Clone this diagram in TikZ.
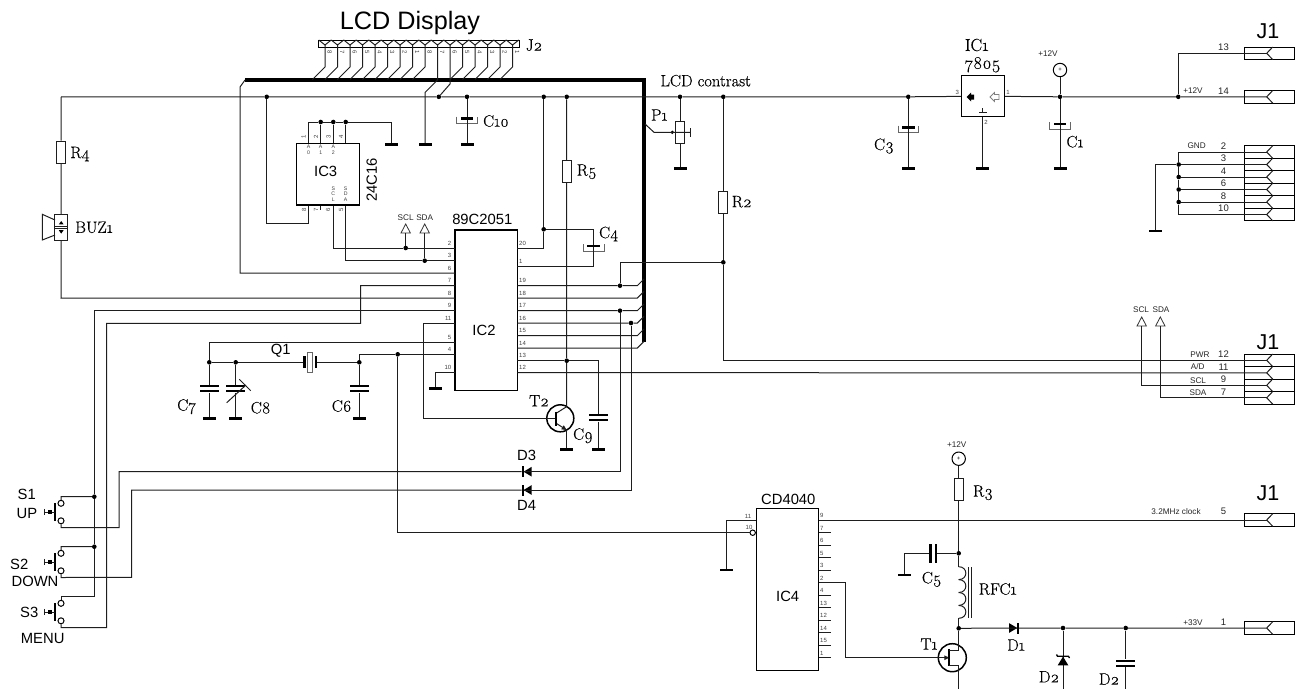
\documentclass[tikz,border=0pt]{standalone}
\usepackage{fontspec}
\setmainfont{Latin Modern Roman}[Numbers=OldStyle, FakeBold=0.35]
\setsansfont{Liberation Sans}
\usetikzlibrary{positioning, arrows.meta, calc}
\definecolor{wiregray}{RGB}{30,30,30}
\tikzset{wire/.style={line width=1pt, wiregray}}
\tikzset{bus/.style={line width=3.2pt, black}}
\tikzset{chip/.style={
    rectangle,
    draw=black,
    line width=1.4pt,
    inner sep=0pt
}}
\tikzset{resistor/.style={
    rectangle,
    draw=wiregray,
    line width=1pt,
    minimum width=9pt,
    minimum height=22pt,
    inner sep=0pt
}}
\tikzset{plate/.style={rectangle, fill=black, minimum width=19pt, minimum height=2.4pt, inner sep=0pt}}
\tikzset{polplate/.style={plate, minimum width=12.7pt}}
\tikzset{gndbar/.style={rectangle, fill=black, minimum width=13pt, minimum height=2.6pt, inner sep=0pt}}
\tikzset{junc/.style={circle, fill=black, minimum size=4.6pt, inner sep=0pt}}
\tikzset{jackbox/.style={rectangle, draw=black, line width=1pt, minimum width=50.4pt, minimum height=12.6pt, inner sep=0pt}}
\tikzset{contact/.style={circle, draw=black, fill=white, line width=1pt, minimum size=6pt, inner sep=0pt}}
\tikzset{supply/.style={circle, draw=black, line width=1pt, minimum size=13.4pt, inner sep=0pt, font=\sffamily\fontsize{6}{6}\selectfont}}
\tikzset{part/.style={inner sep=0pt, font=\fontsize{16.5}{16.5}\selectfont}}
\tikzset{cname/.style={inner sep=0pt, font=\sffamily\fontsize{14.8}{14.8}\selectfont}}
\tikzset{bigname/.style={inner sep=0pt, font=\sffamily\fontsize{21.5}{21.5}\selectfont}}
\tikzset{pinnum/.style={inner sep=0pt, text=black!75, font=\sffamily\fontsize{6}{6}\selectfont}}
\tikzset{sigtext/.style={inner sep=0pt, text=black!85, font=\sffamily\fontsize{8.2}{8.2}\selectfont}}
\tikzset{jacknum/.style={inner sep=0pt, text=black!85, font=\sffamily\fontsize{9.5}{9.5}\selectfont}}
\newcommand{\capnp}[3]{%
  \node (#1a) [plate] at (#2,#3) {};
  \node (#1b) [plate] at (#2,#3+5.2) {};
}
\newcommand{\cappol}[3]{%
  \draw [black!60, line width=0.8pt] (#2-10.3,#3-1.6) -- (#2-10.3,#3+5) -- (#2+10.3,#3+5) -- (#2+10.3,#3-1.6);
  \node (#1) [polplate] at (#2,#3) {};
}
\newcommand{\jackslot}[2]{%
  \node (#1) [jackbox] at (1269.5,#2) {};
  \coordinate (#1t) at (1266.7,#2);
  \draw [wire] (1272.7,#2-6.3) -- (#1t) -- (1272.7,#2+6.3);
}
\newcommand{\flagtri}[3]{%
  \coordinate (#1) at (#2,#3+9);
  \draw [black!80, line width=0.8pt] (#1) -- (#2-4.7,#3+9) -- (#2,#3) -- (#2+4.7,#3+9) -- cycle;
}
\newcommand{\pushsw}[2]{%
  \node (#1t) [contact] at (61,#2) {};
  \node (#1b) [contact] at (61,#2+17.5) {};
  \coordinate (#1u) at (61,#2-6.7);
  \coordinate (#1e) at (61,#2+24.2);
  \draw [black, line width=1.5pt] (55,#2) -- (55,#2+17.5);
  \draw [wire] (44,#2+8.75) -- (55,#2+8.75);
  \draw [wire] (44,#2+5.5) -- (44,#2+12);
  \fill [black] (47.5,#2+6.8) rectangle (51.5,#2+10.7);
}

\begin{document}
\begin{tikzpicture}[x=1pt, y=-1pt, >={Triangle[length=5pt, width=4.5pt]}]
    \useasboundingbox (0,0) rectangle (1308,689);
    % Chips and passive parts
    \node (J2) [rectangle, draw=black, line width=0.9pt, minimum width=201pt, minimum height=7pt, inner sep=0pt] at (418.5,43.5) {};
    \node (IC2) [chip, minimum width=62.3pt, minimum height=160.7pt] at (486.2,310.3) {};
    \node (IC3) [chip, minimum width=62.6pt, minimum height=61.7pt] at (328,174.2) {};
    \node (IC1) [chip, minimum width=42.6pt, minimum height=41pt] at (983,96.2) {};
    \node (IC4) [chip, minimum width=62.4pt, minimum height=162.4pt] at (787.5,589.5) {};
    \node (R4) [resistor] at (61,152) {};
    \node (R5) [resistor] at (566.7,171.7) {};
    \node (R2) [resistor] at (723.3,202.5) {};
    \node (R3) [resistor] at (958.7,489) {};
    \node (P1) [resistor] at (680,132.5) {};
    \node (BUZ) [rectangle, draw=wiregray, line width=1pt, minimum width=13pt, minimum height=26pt, inner sep=0pt] at (61.2,227.3) {};
    \node (T2) [circle, draw=black, line width=1.5pt, minimum size=27pt, inner sep=0pt] at (560.3,418.3) {};
    \node (T1) [circle, draw=black, line width=1.5pt, minimum size=28pt, inner sep=0pt] at (952.3,657.7) {};
    \node (V1) [supply] at (1060,70) {+};
    \node (V2) [supply] at (958.7,458.7) {+};
    \capnp{C7}{209.3}{386}
    \capnp{C8}{235.7}{386}
    \capnp{C6}{359.3}{386}
    \capnp{C9}{598.3}{415}
    \capnp{CD}{1125.7}{660.7}
    \cappol{C10}{467}{118.3}
    \cappol{C4}{593.7}{246}
    \cappol{C3}{908.3}{127.3}
    \cappol{C1}{1060}{124}
    \node (C5a) [plate, rotate=90] at (930.5,553.3) {};
    \node (C5b) [plate, rotate=90] at (935.8,553.3) {};
    \node (Q1box) [rectangle, draw=black!60, line width=0.8pt, minimum width=5pt, minimum height=20.4pt, inner sep=0pt] at (309.8,362.5) {};
    \node (Q1a) [plate, rotate=90, minimum width=12pt] at (304.3,362.3) {};
    \node (Q1b) [plate, rotate=90, minimum width=12pt] at (315.7,362.3) {};
    \pushsw{S1}{503.3}
    \pushsw{S2}{553.3}
    \pushsw{S3}{603.3}
    % Connector J1
    \jackslot{Jp13}{53.3}
    \jackslot{Jp14}{96.8}
    \jackslot{Jp2}{152}
    \jackslot{Jp3}{164.5}
    \jackslot{Jp4}{177}
    \jackslot{Jp6}{189.5}
    \jackslot{Jp8}{202}
    \jackslot{Jp10}{214.5}
    \jackslot{Jp12}{360.3}
    \jackslot{Jp11}{372.8}
    \jackslot{Jp9}{385.3}
    \jackslot{Jp7}{397.8}
    \jackslot{Jp5}{520}
    \jackslot{Jp1}{628}
    % Ground bars
    \node (gA) [gndbar] at (391.7,144.3) {};
    \node (gB) [gndbar] at (425,144.3) {};
    \node (gC10) [gndbar] at (467,144.3) {};
    \node (gP1) [gndbar] at (680,168.3) {};
    \node (gC3) [gndbar] at (908.3,168.3) {};
    \node (gIC1) [gndbar] at (982.7,168.3) {};
    \node (gC1) [gndbar] at (1060,168.3) {};
    \node (gJ1) [gndbar] at (1155,231) {};
    \node (gC7) [gndbar] at (209.3,418.3) {};
    \node (gC8) [gndbar] at (235.7,418.3) {};
    \node (gC6) [gndbar] at (359.3,418.3) {};
    \node (gPin10) [gndbar] at (435.7,388.3) {};
    \node (gT2) [gndbar] at (566.7,449.3) {};
    \node (gC9) [gndbar] at (598.3,449.3) {};
    \node (gIC4) [gndbar] at (726.3,570) {};
    \node (gC5) [gndbar] at (904,575) {};
    % Junctions
    \node (jRail1) [junc] at (266.7,96.8) {};
    \node (jRail2) [junc] at (438.8,96.8) {};
    \node (jRail3) [junc] at (467,96.8) {};
    \node (jRail4) [junc] at (543.7,96.8) {};
    \node (jRail5) [junc] at (566.7,96.8) {};
    \node (jRail6) [junc] at (680,96.8) {};
    \node (jRail7) [junc] at (723.3,96.8) {};
    \node (jRail8) [junc] at (908.3,96.8) {};
    \node (jRail9) [junc] at (1060,96.8) {};
    \node (jRail10) [junc] at (1178.3,96.8) {};
    \node (jA1) [junc] at (320.7,122) {};
    \node (jA2) [junc] at (333.3,122) {};
    \node (jA3) [junc] at (345.7,122) {};
    \node (jSCL) [junc] at (405.7,248) {};
    \node (jSDA) [junc] at (424.7,260.7) {};
    \node (jC4) [junc] at (543.7,229.3) {};
    \node (jP19) [junc] at (620,285.7) {};
    \node (jP17) [junc] at (620,310.7) {};
    \node (jP16) [junc] at (631,323) {};
    \node (jR2) [junc] at (723.3,262.3) {};
    \node (jP13) [junc] at (566.7,360.7) {};
    \node (jXtalL) [junc] at (209.3,362.3) {};
    \node (jXtalM) [junc] at (235.7,362.3) {};
    \node (jXtalR) [junc] at (359.3,362.3) {};
    \node (jP4) [junc] at (397.7,354.3) {};
    \node (jS1) [junc] at (94.3,496.7) {};
    \node (jS2) [junc] at (94.3,546.7) {};
    \node (jC5) [junc] at (958.7,553.3) {};
    \node (jT1) [junc] at (958.7,628.3) {};
    \node (jD2) [junc] at (1063,628) {};
    \node (jCD) [junc] at (1125.7,628) {};
    \node (jJ1a) [junc] at (1178.7,164.5) {};
    \node (jJ1b) [junc] at (1178.7,177) {};
    \node (jJ1c) [junc] at (1178.7,189.5) {};
    \node (jJ1d) [junc] at (1178.7,202) {};
    % IC2 pins
    \foreach \n/\y in {2/248,3/260.7,6/273,7/285.7,8/298,9/310.7,11/323,5/342,4/354.3,10/372.7} {
        \coordinate (IC2-\n) at (455,\y);
        \node (IC2n\n) [pinnum, anchor=east] at (451.5,\y-5) {\n};
    }
    \foreach \n/\y in {20/248,1/266.7,19/285.7,18/298,17/310.7,16/323,15/335.7,14/348,13/360.7,12/372.7} {
        \coordinate (IC2-\n) at (517.3,\y);
        \node (IC2n\n) [pinnum, anchor=west] at (519,\y-5) {\n};
    }
    % IC4 pins
    \foreach \n/\y in {9/520,7/532.7,6/545,5/557.7,3/570,2/582.7,4/595,13/607.7,12/620,14/632.7,15/645,1/657.7} {
        \coordinate (IC4-\n) at (818.7,\y);
        \draw [wire] (IC4-\n) -- ++(12,0);
        \node (IC4n\n) [pinnum, anchor=west] at (820,\y-4.5) {\n};
    }
    % Bus and display connector
    \coordinate (busL) at (245,80);
    \coordinate (busT) at (644,80);
    \coordinate (busB) at (644,342);
    \draw [bus] (busL) -- (busT) -- (busB);
    \foreach \x/\n [count=\i] in {325/8,337.5/7,350/6,362.5/5,375/4,387.5/3,400/2,412.5/1,425/8,437.5/7,450/6,462.5/5,475/4,487.5/3,500/2,512.5/1} {
        \coordinate (J2p\i) at (\x,45);
        \draw [wire] (\x-6.25,40) -- (J2p\i) -- (\x+6.25,40);
        \node (J2n\i) [pinnum, rotate=-90] at (\x+4.6,52.5) {\n};
    }
    \foreach \i in {1,2,3,4,5,6,7,8,9,12,13,14,15,16} {
        \draw [wire] (J2p\i) -- ++(0,22) -- ++(-12.5,12.5);
    }
    \coordinate (cJ2a) at (425,92.5);
    \coordinate (cJ2b) at (437.5,80);
    \coordinate (cJ2c) at (450,84);
    \draw [wire] (J2p10) -- (cJ2b) -- (cJ2a) -- (gB);
    \draw [wire] (J2p11) -- (cJ2c) -- (jRail2);
    % Supply rail
    \coordinate (cTL) at (61,96.8);
    \draw [wire] (cTL) -- (jRail1) -- (jRail2) -- (jRail3) -- (jRail4) -- (jRail5) -- (jRail6) -- (jRail7) -- (jRail8) -- (IC1);
    \draw [wire] (IC1) -- (jRail9) -- (jRail10) -- (Jp14t);
    \coordinate (cJ13) at (1178.3,53.3);
    \draw [wire] (jRail10) -- (cJ13) -- (Jp13t);
    \draw [wire] (V1) -- (jRail9) -- (C1) -- (gC1);
    \draw [wire] (jRail8) -- (C3) -- (gC3);
    \draw [wire] (IC1.south -| gIC1) -- (gIC1);
    \draw [wire] (jRail3) -- (C10) -- (gC10);
    % Buzzer branch
    \coordinate (cBuz) at (61,298);
    \draw [wire] (cTL) -- (R4) -- (BUZ) -- (cBuz) -- (IC2-8);
    \draw [wire] (55,220) -- (42.3,214.3) -- (42.3,240) -- (55,235);
    \draw [wire] (54.7,226) -- (67.7,226);
    \draw [wire] (54.7,228.6) -- (67.7,228.6);
    \fill [black] (61.2,221) -- (63.6,224.4) -- (58.8,224.4) -- cycle;
    \fill [black] (61.2,233.6) -- (63.6,230.2) -- (58.8,230.2) -- cycle;
    % Contrast pot and R2
    \draw [wire] (jRail6) -- (P1) -- (gP1);
    \coordinate (cP1a) at (645,124);
    \coordinate (cP1b) at (654,132.3);
    \coordinate (cP1c) at (690,132.3);
    \node (jP1) [junc, minimum size=3.6pt] at (672.3,132.3) {};
    \draw [wire] (cP1a) -- (cP1b) -- (cP1c);
    \draw [wire] (690,128) -- (690,136.6);
    \coordinate (cR2) at (723.3,360.3);
    \draw [wire] (jRail7) -- (R2) -- (jR2) -- (cR2) -- (Jp12t);
    \coordinate (cP19) at (620,262.3);
    \draw [wire] (jP19) -- (cP19) -- (jR2);
    % IC3
    \coordinate (cA0) at (308.7,122);
    \coordinate (cAg) at (391.7,122);
    \draw [wire] (IC3.north -| cA0) -- (cA0) -- (jA1) -- (jA2) -- (jA3) -- (cAg) -- (gA);
    \draw [wire] (jA1) -- (jA1 |- IC3.north);
    \draw [wire] (jA2) -- (jA2 |- IC3.north);
    \draw [wire] (jA3) -- (jA3 |- IC3.north);
    \coordinate (cWPa) at (308.7,223.3);
    \coordinate (cWPb) at (266.7,223.3);
    \draw [wire] (cA0 |- IC3.south) -- (cWPa) -- (cWPb) -- (jRail1);
    \draw [wire] (jA1 |- IC3.south) -- ++(0,4.5);
    \coordinate (cSCL) at (333.3,248);
    \coordinate (cSDA) at (345.7,260.7);
    \draw [wire] (jA2 |- IC3.south) -- (cSCL) -- (jSCL) -- (IC2-2);
    \draw [wire] (jA3 |- IC3.south) -- (cSDA) -- (jSDA) -- (IC2-3);
    \flagtri{fSCL}{405.7}{224}
    \flagtri{fSDA}{424.7}{224}
    \draw [wire] (fSCL) -- (jSCL);
    \draw [wire] (fSDA) -- (jSDA);
    % IC2 left side
    \coordinate (cBusL) at (240,87);
    \coordinate (cP6) at (240,273);
    \draw [wire] (busL) -- (cBusL) -- (cP6) -- (IC2-6);
    \coordinate (cP7a) at (360.7,285.7);
    \coordinate (cP7b) at (360.7,323.3);
    \coordinate (cP7c) at (106.7,323.3);
    \coordinate (cS3b) at (106.7,627.7);
    \draw [wire] (IC2-7) -- (cP7a) -- (cP7b) -- (cP7c) -- (cS3b) -- (S3e) -- (S3b);
    \coordinate (cP9) at (94.3,310.7);
    \coordinate (cS3t) at (94.3,596.6);
    \draw [wire] (IC2-9) -- (cP9) -- (jS1) -- (jS2) -- (cS3t) -- (S3u) -- (S3t);
    \draw [wire] (jS1) -- (S1u) -- (S1t);
    \draw [wire] (jS2) -- (S2u) -- (S2t);
    \coordinate (cP11) at (423.3,323);
    \coordinate (cBase) at (423.3,418.3);
    \coordinate (T2b) at (555.7,418.3);
    \draw [wire] (IC2-11) -- (cP11) -- (cBase) -- (T2b);
    \coordinate (cP5) at (209.3,342);
    \draw [wire] (IC2-5) -- (cP5) -- (jXtalL);
    \coordinate (cP4) at (359.3,354.3);
    \draw [wire] (IC2-4) -- (jP4) -- (cP4) -- (jXtalR);
    \coordinate (cP10) at (435.7,372.7);
    \draw [wire] (IC2-10) -- (cP10) -- (gPin10);
    % Crystal and its capacitors
    \draw [wire] (jXtalL) -- (jXtalM) -- (Q1a);
    \draw [wire] (Q1b) -- (jXtalR);
    \draw [wire] (jXtalL) -- (C7a);
    \draw [wire] (C7b) -- (gC7);
    \draw [wire] (jXtalM) -- (C8a);
    \draw [wire] (C8b) -- (gC8);
    \draw [wire] (jXtalR) -- (C6a);
    \draw [wire] (C6b) -- (gC6);
    \draw [wire] (226.7,402.7) -- (246,385);
    \draw [wire] (239.3,379.3) -- (250.7,390.7);
    % IC2 right side
    \coordinate (cP20) at (543.7,248);
    \draw [wire] (IC2-20) -- (cP20) -- (jC4) -- (jRail4);
    \coordinate (cC4a) at (593.7,229.3);
    \coordinate (cC4b) at (593.7,266.7);
    \draw [wire] (jC4) -- (cC4a) -- (C4) -- (cC4b) -- (IC2-1);
    \foreach \n/\y in {18/298,15/335.7,14/348} {
        \coordinate (tap\n) at (644,\y-6.7);
        \draw [wire] (IC2-\n) -- ($(tap\n)+(-6.7,6.7)$) -- (tap\n);
    }
    \coordinate (tap19) at (644,279);
    \coordinate (tap17) at (644,304);
    \coordinate (tap16) at (644,316.3);
    \draw [wire] (IC2-19) -- (jP19) -- ($(tap19)+(-6.7,6.7)$) -- (tap19);
    \draw [wire] (IC2-17) -- (jP17) -- ($(tap17)+(-6.7,6.7)$) -- (tap17);
    \draw [wire] (IC2-16) -- (jP16) -- ($(tap16)+(-6.7,6.7)$) -- (tap16);
    \draw [wire] (IC2-12) -- (Jp11t);
    \coordinate (cP13) at (598.3,360.7);
    \draw [wire] (IC2-13) -- (jP13) -- (cP13) -- (C9a);
    \draw [wire] (C9b) -- (gC9);
    % T2
    \coordinate (T2c) at (566.7,406.6);
    \coordinate (T2e) at (566.7,430);
    \draw [wire] (jRail5) -- (R5) -- (jP13) -- (T2c) -- (555.7,413.6);
    \draw [wire, ->] (555.7,423) -- (T2e);
    \draw [wire] (T2e) -- (gT2);
    \draw [black, line width=1.9pt] (555.7,411.6) -- (555.7,426);
    % D3 and D4 with the switches
    \coordinate (cD3) at (620,471.7);
    \coordinate (cD4) at (631,490);
    \coordinate (cS1a) at (119,527.7);
    \coordinate (cS1b) at (119,471.7);
    \coordinate (cS2a) at (131.7,577.3);
    \coordinate (cS2b) at (131.7,490);
    \node (D3bar) [plate, rotate=90, minimum width=11pt, minimum height=1.8pt] at (522.6,471.7) {};
    \node (D4bar) [plate, rotate=90, minimum width=11pt, minimum height=1.8pt] at (522.6,490) {};
    \fill [black] (523.6,471.7) -- (531.7,466.8) -- (531.7,476.6) -- cycle;
    \fill [black] (523.6,490) -- (531.7,485.1) -- (531.7,494.9) -- cycle;
    \draw [wire] (jP17) -- (cD3) -- (D3bar);
    \draw [wire] (jP16) -- (cD4) -- (D4bar);
    \draw [wire] (D3bar) -- (cS1b) -- (cS1a) -- (S1e) -- (S1b);
    \draw [wire] (D4bar) -- (cS2b) -- (cS2a) -- (S2e) -- (S2b);
    % Right hand connectors
    \coordinate (cGnd) at (1155,164.5);
    \draw [wire] (jJ1a) -- (cGnd) -- (gJ1);
    \coordinate (cGt) at (1178.7,152);
    \coordinate (cGb) at (1178.7,214.5);
    \draw [wire] (Jp2t) -- (cGt) -- (jJ1a) -- (jJ1b) -- (jJ1c) -- (jJ1d) -- (cGb) -- (Jp10t);
    \draw [wire] (jJ1a) -- (Jp3t);
    \draw [wire] (jJ1b) -- (Jp4t);
    \draw [wire] (jJ1c) -- (Jp6t);
    \draw [wire] (jJ1d) -- (Jp8t);
    \flagtri{fSCLb}{1141.7}{317}
    \flagtri{fSDAb}{1160.3}{317}
    \coordinate (cSCLb) at (1141.7,385.3);
    \coordinate (cSDAb) at (1160.3,397.8);
    \draw [wire] (fSCLb) -- (cSCLb) -- (Jp9t);
    \draw [wire] (fSDAb) -- (cSDAb) -- (Jp7t);
    % CD4040
    \coordinate (cInA) at (397.7,532.7);
    \node (inv) [contact, minimum size=5.4pt] at (752.7,532.7) {};
    \draw [wire] (jP4) -- (cInA) -- (inv);
    \coordinate (cP11b) at (726.3,520);
    \draw [wire] (IC4.west |- cP11b) -- (cP11b) -- (gIC4);
    \draw [wire] (IC4-9) -- (Jp5t);
    \coordinate (cGa) at (845.7,582.7);
    \coordinate (cGb2) at (845.7,657.7);
    \coordinate (T1g) at (949.3,657.7);
    \draw [wire] (IC4-2) -- (cGa) -- (cGb2);
    \draw [wire, ->] (cGb2) -- (T1g);
    \draw [black, line width=1.9pt] (949.3,649) -- (949.3,666);
    % T1, coil and output
    \coordinate (T1d) at (958.7,650);
    \coordinate (T1s) at (958.7,665);
    \coordinate (cOut) at (958.7,689);
    \coordinate (RFCt) at (958.7,566.7);
    \coordinate (RFCb) at (958.7,618.3);
    \draw [wire] (V2) -- (R3) -- (jC5) -- (RFCt);
    \foreach \y in {566.7,579.6,592.5,605.4} {
        \draw [wire] (958.7,\y) .. controls (968.2,\y) and (968.2,\y+12.9) .. (958.7,\y+12.9);
    }
    \draw [wire] (968.3,567) -- (968.3,618.3);
    \draw [wire] (971.7,567) -- (971.7,618.3);
    \draw [wire] (RFCb) -- (jT1) -- (T1d) -- (949.3,650);
    \draw [wire] (949.3,665) -- (T1s) -- (cOut);
    \draw [wire] (jC5) -- (C5b);
    \coordinate (cC5) at (904,553.3);
    \draw [wire] (C5a) -- (cC5) -- (gC5);
    \node (D1bar) [plate, rotate=90, minimum width=11pt, minimum height=1.8pt] at (1018,628) {};
    \fill [black] (1017.2,628) -- (1009,623.1) -- (1009,632.9) -- cycle;
    \draw [wire] (jT1) -- (D1bar) -- (jD2) -- (jCD) -- (Jp1t);
    \coordinate (D2top) at (1063,656.3);
    \coordinate (D2low) at (1063,689);
    \draw [wire] (jD2) -- (D2top) -- (D2low);
    \draw [black, line width=1.3pt] (1056.5,654.5) -- (1057.5,656.3) -- (1068.5,656.3) -- (1069.5,658);
    \fill [black] (1063,656.6) -- (1068.3,665.3) -- (1057.7,665.3) -- cycle;
    \draw [wire] (jCD) -- (CDa);
    \coordinate (CDlow) at (1125.7,689);
    \draw [wire] (CDb) -- (CDlow);
    % IC1 inner marks
    \fill [black] (966.7,97) -- (971,92.5) -- (971,94.5) -- (974,94.5) -- (974,99.5) -- (971,99.5) -- (971,101.5) -- cycle;
    \draw [black!50, line width=0.8pt] (990,97) -- (994.5,92.5) -- (994.5,94.5) -- (999,94.5) -- (999,99.5) -- (994.5,99.5) -- (994.5,101.5) -- cycle;
    \draw [wire] (982.7,108) -- (982.7,112.5);
    \draw [wire] (979,112.5) -- (986.7,112.5);
    % Chip and part names
    \node (lcdName) [inner sep=0pt, font=\sffamily\fontsize{25.2}{25.2}\selectfont] at (410,23) {LCD Display};
    \node (nameJ2) [part] at (534,45) {J2};
    \node (nameJ1a) [bigname] at (1268,31.7) {J1};
    \node (nameJ1b) [bigname] at (1268,342) {J1};
    \node (nameJ1c) [bigname] at (1268,493) {J1};
    \node (nameIC3) [cname] at (325.7,171.7) {IC3};
    \node (name24C) [cname, rotate=90] at (371.7,180) {24C16};
    \node (name89C) [cname] at (482.3,219.3) {89C2051};
    \node (nameIC2) [cname] at (484,330.7) {IC2};
    \node (nameIC4) [cname] at (787.7,596) {IC4};
    \node (nameCD) [cname] at (788.3,499) {CD4040};
    \node (nameQ1) [cname] at (280.7,351) {Q1};
    \node (nameD3) [cname] at (526.7,455) {D3};
    \node (nameD4) [cname] at (526.7,505) {D4};
    \node (nameS1) [cname] at (26.7,494.3) {S1};
    \node (nameUP) [cname] at (27,513.3) {UP};
    \node (nameS2) [cname] at (19.3,564.3) {S2};
    \node (nameDOWN) [cname] at (35,581) {DOWN};
    \node (nameS3) [cname] at (29.3,612.7) {S3};
    \node (nameMENU) [cname] at (42.7,638.3) {MENU};
    \node (nameLCD) [part] at (705.7,80.7) {LCD contrast};
    \node (nameP1) [part] at (659.3,115) {P1};
    \node (nameR4) [part] at (80,154) {R4};
    \node (nameBUZ) [part] at (94,227.3) {BUZ1};
    \node (nameR5) [part] at (586.7,171.7) {R5};
    \node (nameR2) [part] at (741.7,201.7) {R2};
    \node (nameR3) [part] at (983,492.7) {R3};
    \node (nameC10) [part] at (496,121) {C10};
    \node (nameC4) [part] at (608.7,234) {C4};
    \node (nameC3) [part] at (884,146) {C3};
    \node (nameC1) [part] at (1075,141.7) {C1};
    \node (nameC7) [part] at (186.7,406.7) {C7};
    \node (nameC8) [part] at (260.7,407.7) {C8};
    \node (nameC6) [part] at (341.7,406) {C6};
    \node (nameC9) [part] at (583,435.7) {C9};
    \node (nameC5) [part] at (931.7,579.3) {C5};
    \node (nameT2) [part] at (539,400.7) {T2};
    \node (nameT1) [part] at (929,644) {T1};
    \node (nameIC1) [part, font=\fontsize{17.5}{17.5}\selectfont] at (976.7,45) {IC1};
    \node (name7805) [part, font=\fontsize{17.5}{17.5}\selectfont] at (982.7,64.8) {7805};
    \node (nameRFC) [part] at (997.7,589) {RFC1};
    \node (nameD1) [part] at (1016,645) {D1};
    \node (nameD2a) [part] at (1049,676.7) {D2};
    \node (nameD2b) [part] at (1109,679) {D2};
    % IC3 pin texts
    \foreach \x/\n in {303.5/1,316/2,328.5/3,341/4} {
        \node (topn\n) [pinnum, rotate=90] at (\x,137) {\n};
    }
    \foreach \x/\n in {304/8,316/7,328/6,341/5} {
        \node (botn\n) [pinnum, rotate=90] at (\x,210) {\n};
    }
    \node (pinA0) [pinnum, align=center, font=\sffamily\fontsize{5.2}{5.8}\selectfont] at (308.5,150) {A\\0};
    \node (pinA1) [pinnum, align=center, font=\sffamily\fontsize{5.2}{5.8}\selectfont] at (320.7,150) {A\\1};
    \node (pinA2) [pinnum, align=center, font=\sffamily\fontsize{5.2}{5.8}\selectfont] at (333.3,150) {A\\2};
    \node (pinSCL) [pinnum, align=center, font=\sffamily\fontsize{5.2}{5.8}\selectfont] at (333.3,194) {S\\C\\L};
    \node (pinSDA) [pinnum, align=center, font=\sffamily\fontsize{5.2}{5.8}\selectfont] at (345.7,194) {S\\D\\A};
    % Signal texts
    \node (txtSCL) [sigtext] at (405.7,218) {SCL};
    \node (txtSDA) [sigtext] at (424.7,218) {SDA};
    \node (txtSCLb) [sigtext] at (1141,310) {SCL};
    \node (txtSDAb) [sigtext] at (1161,310) {SDA};
    \node (txtV1) [sigtext] at (1048,54) {+12V};
    \node (txtV2) [sigtext] at (956.7,445) {+12V};
    \node (txtRail) [sigtext] at (1193,91) {+12V};
    \node (txtGND) [sigtext] at (1196.7,146) {GND};
    \node (txtPWR) [sigtext] at (1200,354.3) {PWR};
    \node (txtAD) [sigtext] at (1197.7,367) {A/D};
    \node (txtSCLc) [sigtext] at (1198,381) {SCL};
    \node (txtSDAc) [sigtext] at (1198,393) {SDA};
    \node (txtClock) [sigtext] at (1176,512) {3.2MHz clock};
    \node (txtOut) [sigtext] at (1193,622.7) {+33V};
    \node (pin3IC1) [pinnum] at (957.3,92.3) {3};
    \node (pin1IC1) [pinnum] at (1008,92.3) {1};
    \node (pin2IC1) [pinnum] at (986,122.7) {2};
    \node (pin11IC4) [pinnum] at (748,516) {11};
    \node (pin10IC4) [pinnum] at (749,527) {10};
    % Connector pin numbers
    \foreach \y/\n in {47.7/13,91.7/14,146/2,158/3,171/4,183/6,196/8,208.7/10,354.3/12,367/11,379/9,392/7,511/5,622/1} {
        \node (jn\n) [jacknum] at (1223.5,\y) {\n};
    }
\end{tikzpicture}
\end{document}
